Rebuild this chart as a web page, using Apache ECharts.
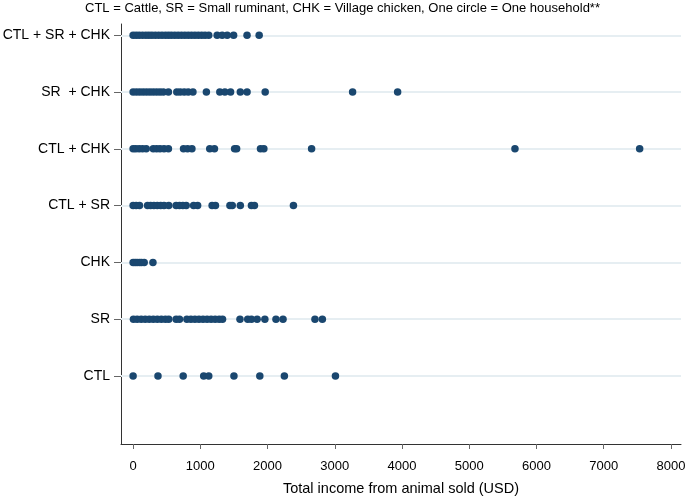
<!DOCTYPE html>
<html>
<head>
<meta charset="utf-8">
<script src="https://cdn.jsdelivr.net/npm/echarts@6/dist/echarts.min.js"></script>
<style>
html,body{margin:0;padding:0;background:#fff;}
#chart{width:685px;height:496px;}
</style>
</head>
<body>
<div id="chart"></div>
<script>
// Row labels (bottom to top)
var categories = ['CTL', 'SR', 'CHK', 'CTL + SR', 'CTL + CHK', 'SR  + CHK', 'CTL + SR + CHK'];
// Household incomes (USD) by livestock combination
var ctl = [0, 370, 745, 1050, 1125, 1500, 1885, 2250, 3010];
var sr = [5, 60, 120, 180, 240, 300, 360, 420, 480, 530, 640, 690, 800, 860, 920, 980, 1040, 1100, 1160, 1220, 1280, 1330, 1590, 1705, 1760, 1845, 1960, 2125, 2230, 2705, 2815];
var chk = [0, 30, 60, 95, 125, 165, 295];
var ctlSr = [0, 45, 95, 215, 260, 310, 360, 410, 460, 530, 640, 690, 740, 790, 900, 960, 1175, 1225, 1440, 1475, 1595, 1760, 1805, 2385];
var ctlChk = [0, 40, 90, 140, 195, 300, 350, 400, 460, 525, 750, 810, 875, 1140, 1210, 1510, 1540, 1895, 1945, 2655, 5680, 7535];
var srChk = [0, 50, 100, 150, 200, 250, 300, 350, 400, 450, 525, 650, 700, 760, 820, 890, 1090, 1290, 1365, 1450, 1595, 1695, 1965, 3265, 3935];
var ctlSrChk = [0, 45, 90, 140, 190, 235, 280, 330, 380, 430, 480, 525, 570, 620, 670, 720, 770, 820, 870, 920, 970, 1020, 1070, 1125, 1250, 1325, 1400, 1495, 1695, 1875];
var xTicks = [0, 1000, 2000, 3000, 4000, 5000, 6000, 7000, 8000];
var titleText = 'CTL = Cattle, SR = Small ruminant, CHK = Village chicken, One circle = One household**';

var groups = [ctl, sr, chk, ctlSr, ctlChk, srChk, ctlSrChk];
var points = [];
groups.forEach(function (g, i) {
  g.forEach(function (v) { points.push([v, i]); });
});
var rowIdx = categories.map(function (c, i) { return i; });

var font = '"Liberation Sans", Arial, sans-serif';
var chart = echarts.init(document.getElementById('chart'), null, {renderer: 'canvas'});
chart.setOption({
  animation: false,
  backgroundColor: '#ffffff',
  title: {
    text: titleText, left: 'center', top: 2, padding: 0,
    textStyle: {fontFamily: font, fontSize: 13, fontWeight: 'normal', color: '#000'}
  },
  grid: {left: 121, right: 4, top: 24, bottom: 52, containLabel: false, outerBoundsMode: 'none'},
  xAxis: {
    type: 'value', min: -180, max: 8150,
    name: 'Total income from animal sold (USD)',
    nameLocation: 'middle', nameGap: 37,
    nameTextStyle: {fontFamily: font, fontSize: 14.5, color: '#000'},
    axisLine: {show: true, onZero: false, lineStyle: {color: '#333', width: 1}},
    axisTick: {show: true, length: 5, customValues: xTicks, lineStyle: {color: '#666'}},
    axisLabel: {
      customValues: xTicks, margin: 16, fontFamily: font, fontSize: 13, color: '#000',
      formatter: function (v) { return String(v); }
    },
    splitLine: {show: false}
  },
  yAxis: {
    type: 'value', min: -1.2, max: 6.2,
    axisLine: {show: true, onZero: false, lineStyle: {color: '#333', width: 1}},
    axisTick: {show: true, length: 7, customValues: rowIdx, lineStyle: {color: '#666'}},
    axisLabel: {
      customValues: rowIdx, margin: 11, fontFamily: font, fontSize: 14, color: '#000',
      formatter: function (v) { return categories[Math.round(v)] || ''; }
    },
    splitLine: {show: false}
  },
  series: [{
    type: 'scatter',
    data: [],
    z: 1,
    markLine: {
      silent: true, symbol: 'none', animation: false,
      label: {show: false},
      lineStyle: {color: '#e6eef2', width: 2, type: 'solid'},
      data: rowIdx.map(function (i) { return {yAxis: i}; })
    }
  }, {
    type: 'scatter',
    data: points,
    symbol: 'circle',
    symbolSize: 7.5,
    itemStyle: {color: '#1a476f', opacity: 1},
    z: 5
  }]
});
</script>
</body>
</html>
